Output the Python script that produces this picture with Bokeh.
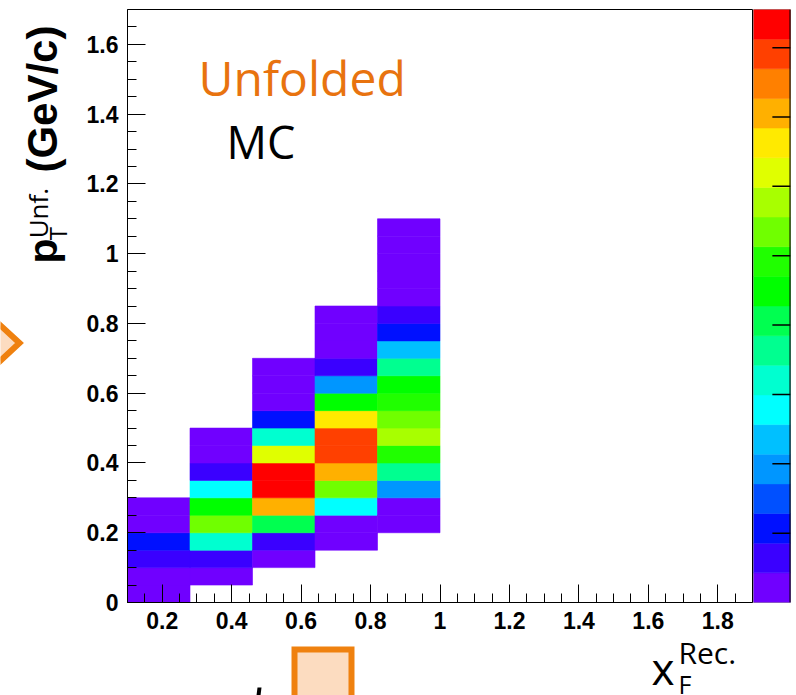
import numpy as np
from bokeh.plotting import figure
from bokeh.layouts import row, column
from bokeh.models import (Range1d, LinearColorMapper, SingleIntervalTicker, CustomJSTickFormatter,
                          Label, Span, ColumnDataSource)
from bokeh.core.properties import value
from bokeh.embed import file_html
from bokeh.resources import INLINE

# ---------------- data ----------------
x_edges = [0.10, 0.28, 0.46, 0.64, 0.82, 1.00]   # x_F^Rec. bin edges of the filled columns
y_bin_width = 0.05                               # p_T^Unf. bin width, bins start at 0
# bin contents per x column, from the lowest p_T bin upward (None = empty bin)
col_1 = [0.18, 0.27, 0.62, 1.05, 0.31, 0.22]
col_2 = [None, 0.24, 0.66, 3.20, 5.35, 4.50, 2.80, 0.60, 0.33, 0.20]
col_3 = [None, None, 0.30, 0.70, 4.10, 7.05, 8.55, 8.30, 6.20, 3.20, 1.05, 0.35, 0.25, 0.20]
col_4 = [None, None, None, 0.28, 0.30, 2.80, 5.35, 7.05, 7.95, 7.85, 6.60, 4.50, 1.90, 0.64,
         0.30, 0.22, 0.15]
col_5 = [None, None, None, None, 0.30, 0.30, 1.90, 3.60, 4.90, 5.80, 5.35, 4.90, 4.50, 3.60,
         2.35, 1.05, 0.60, 0.35, 0.25, 0.20, 0.15, 0.12]
columns = [col_1, col_2, col_3, col_4, col_5]

z_max = 8.55
z_ticks = [1, 2, 3, 4, 5, 6, 7, 8]
palette = ["#7000ff", "#3a00ff", "#0010ff", "#0050ff", "#0096ff", "#00c0ff", "#00ffff",
           "#00ffd0", "#00ff90", "#00ff50", "#00ff00", "#20ff00", "#70ff00", "#a8ff00",
           "#e0ff00", "#ffea00", "#ffb000", "#ff8000", "#ff4000", "#ff0000"]

ORANGE = "#ef810f"
PEACH = "#fcdcc0"
TITLE_ORANGE = "#e8730f"

# ---------------- table of cells ----------------
left, right, bottom, top, z = [], [], [], [], []
for i, col in enumerate(columns):
    for j, v in enumerate(col):
        if v is None:
            continue
        left.append(x_edges[i]); right.append(x_edges[i + 1])
        bottom.append(j * y_bin_width); top.append((j + 1) * y_bin_width)
        z.append(v)
src = ColumnDataSource(dict(left=left, right=right, bottom=bottom, top=top, z=z))

# ---------------- layout geometry (canvas pixels) ----------------
W, H = 796, 695
LEFT_W = 80          # left strip with the y title
ROW_H = 640          # height of the upper row, below it a strip with the x title
FL, FB = 127, 603    # frame left / bottom in canvas pixels

def sx(cx):
    return cx - FL
def sy(cy):
    return FB - cy

# ---------------- main histogram ----------------
p = figure(width=753 - LEFT_W, height=ROW_H, x_range=Range1d(0.1, 1.9), y_range=Range1d(0, 1.7),
           output_backend="svg", toolbar_location=None,
           min_border_left=FL - LEFT_W, min_border_right=1, min_border_top=9,
           min_border_bottom=ROW_H - FB)
p.grid.visible = False
p.outline_line_color = "black"
p.outline_line_width = 1
p.background_fill_color = "white"
p.border_fill_color = "white"

mapper = LinearColorMapper(palette=palette, low=0, high=z_max)
p.quad(left="left", right="right", bottom="bottom", top="top", source=src,
       fill_color={"field": "z", "transform": mapper},
       line_color={"field": "z", "transform": mapper}, line_width=0.6)

for ax in (p.xaxis[0], p.yaxis[0]):
    ax.ticker = SingleIntervalTicker(interval=0.2, num_minor_ticks=4)
    ax.formatter = CustomJSTickFormatter(code="return String(Math.round(tick*10)/10)")
    ax.major_tick_in = 18
    ax.major_tick_out = 0
    ax.minor_tick_in = 9
    ax.minor_tick_out = 0
    ax.axis_line_color = "black"
    ax.major_tick_line_color = "black"
    ax.minor_tick_line_color = "black"
    ax.major_label_text_font = "Liberation Sans"
    ax.major_label_text_font_style = "bold"
    ax.major_label_text_font_size = "23px"
    ax.major_label_text_color = "black"
    ax.major_label_standoff = 9

def lab(cx, cy, text, size, color="black"):
    p.add_layout(Label(x=sx(cx), y=sy(cy), x_units="screen", y_units="screen", text=text,
                       text_font="Open Sans", text_font_size=size, text_color=color,
                       text_align="left", text_baseline="alphabetic"))

lab(198, 78, "Unfolded", "48px", color=TITLE_ORANGE)
lab(226, 142, "MC", "45px")

# ---------------- colour scale ----------------
cb = figure(width=W - 753, height=ROW_H, x_range=Range1d(0, 1), y_range=Range1d(0, z_max),
            output_backend="svg", toolbar_location=None,
            x_axis_location=None, y_axis_location=None,
            min_border_left=0, min_border_right=6, min_border_top=7,
            min_border_bottom=ROW_H - 602)
cb.grid.visible = False
level_bottom = [k * z_max / len(palette) for k in range(len(palette))]
level_top = [(k + 1) * z_max / len(palette) for k in range(len(palette))]
cb.quad(left=0, right=1, bottom=level_bottom, top=level_top, fill_color=palette,
        line_color=palette, line_width=0.5)
cb.segment(x0=0.51, x1=1, y0=z_ticks, y1=z_ticks, line_color="black", line_width=1.5)
cb.outline_line_color = "#999999"
cb.add_layout(Span(location=1, dimension="height", line_color="black", line_width=2))

# ---------------- side strips for the axis titles ----------------
def strip(width, height, y0, y1):
    f = figure(width=width, height=height, x_range=Range1d(0, width), y_range=Range1d(y1, y0),
               output_backend="svg", toolbar_location=None,
               x_axis_location=None, y_axis_location=None,
               min_border=0, min_border_left=0, min_border_right=0,
               min_border_top=0, min_border_bottom=0)
    f.grid.visible = False
    f.outline_line_color = None
    f.background_fill_color = "white"
    f.border_fill_color = "white"
    return f

def txt(f, x, y, text, size, font="Open Sans", style="normal", angle=0.0):
    f.text(x=[x], y=[y], text=[text], angle=angle, text_font=value(font),
           text_font_style=style, text_font_size=size, text_color="black",
           text_align="left", text_baseline="alphabetic")

# left strip: y title p_T^{Unf.} (GeV/c)
ls = strip(LEFT_W, ROW_H, 0, ROW_H)
ls.patch(x=[19, -21, -61, -21], y=[360, 320, 360, 400], fill_color=PEACH,
         line_color=ORANGE, line_width=6, line_join="miter")
up = np.pi / 2
txt(ls, 42, 274, "p", "41px", font="Liberation Sans", style="bold", angle=up)
txt(ls, 57, 249, "T", "24px", angle=up)
txt(ls, 37, 247, "Unf.", "26px", angle=up)
txt(ls, 42, 176, "(GeV/c)", "42px", font="Liberation Sans", style="bold", angle=up)

# bottom strip: x title x_F^{Rec.}
bs = strip(W, H - ROW_H, ROW_H, H)
bs.patch(x=[294, 351, 351, 294], y=[649, 649, 730, 730], fill_color=PEACH,
         line_color=ORANGE, line_width=6, line_join="miter")
bs.patch(x=[257, 261, 260, 256], y=[687, 687, 695, 695], fill_color="black", line_color=None)
txt(bs, 651, 667, "x", "44px")
txt(bs, 678, 683, "F", "25px")
txt(bs, 678, 652, "Rec.", "30px")

layout = column(row(ls, p, cb), bs)
open("out.html", "w").write(file_html(layout, INLINE))
